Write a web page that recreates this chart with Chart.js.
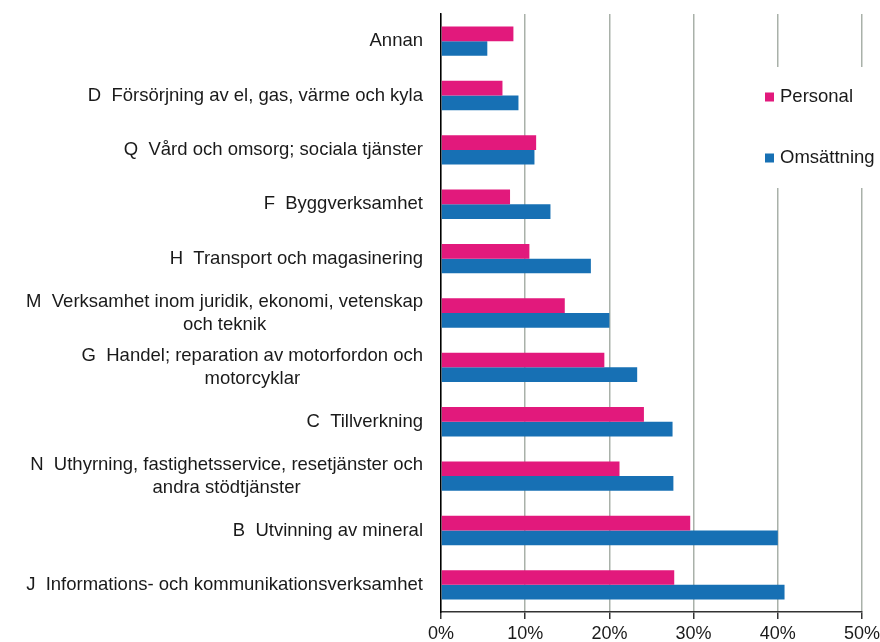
<!DOCTYPE html>
<html lang="sv">
<head>
<meta charset="UTF-8">
<title>Personal och omsättning per bransch</title>
<script src="https://cdn.jsdelivr.net/npm/chart.js"></script>
<style>
    body { margin: 0; background: #fff; }
    #wrap { width: 880px; height: 642px; }
</style>
</head>
<body>
<div id="wrap"><canvas id="barChart" width="880" height="642"></canvas></div>
<script>
const categories = [
    ['Annan'],
    ['D  Försörjning av el, gas, värme och kyla'],
    ['Q  Vård och omsorg; sociala tjänster'],
    ['F  Byggverksamhet'],
    ['H  Transport och magasinering'],
    ['M  Verksamhet inom juridik, ekonomi, vetenskap', 'och teknik'],
    ['G  Handel; reparation av motorfordon och', 'motorcyklar'],
    ['C  Tillverkning'],
    ['N  Uthyrning, fastighetsservice, resetjänster och', 'andra stödtjänster'],
    ['B  Utvinning av mineral'],
    ['J  Informations- och kommunikationsverksamhet']
];
const personal   = [8.6, 7.3, 11.3, 8.2, 10.5, 14.7, 19.4, 24.1, 21.2, 29.6, 27.7];
const omsattning = [5.5, 9.2, 11.1, 13.0, 17.8, 20.0, 23.3, 27.5, 27.6, 40.0, 40.8];
const seriesNames = ['Personal', 'Omsättning'];
const xTicks = [0, 10, 20, 30, 40, 50];

const FONT = '"Liberation Sans", Arial, sans-serif';

// category labels: first line right aligned, second line centred under the first
const catLabels = {
    id: 'catLabels',
    afterDraw(chart) {
        const ctx = chart.ctx;
        const yScale = chart.scales.y;
        const right = yScale.right - 18;
        const lineH = 23;
        ctx.save();
        ctx.font = '18.5px ' + FONT;
        ctx.fillStyle = '#1a1a1a';
        ctx.textBaseline = 'middle';
        categories.forEach((lines, i) => {
            const y = yScale.getPixelForValue(i);
            const w0 = ctx.measureText(lines[0]).width;
            const cx = right - w0 / 2;
            const top = y - (lines.length - 1) * lineH / 2;
            lines.forEach((line, j) => {
                ctx.textAlign = j === 0 ? 'right' : 'center';
                ctx.fillText(line, j === 0 ? right : cx, top + j * lineH);
            });
        });
        ctx.restore();
    }
};

// legend box sitting on top of the grid, right side
const boxLegend = {
    id: 'boxLegend',
    afterDatasetsDraw(chart) {
        const ctx = chart.ctx;
        ctx.save();
        ctx.fillStyle = '#fff';
        ctx.fillRect(752, 67, 128, 121);
        ctx.font = '18.5px ' + FONT;
        ctx.textBaseline = 'middle';
        ctx.textAlign = 'left';
        const rows = [97, 158];
        chart.data.datasets.forEach((ds, i) => {
            ctx.fillStyle = ds.backgroundColor;
            ctx.fillRect(765, rows[i] - 4.5, 9, 9);
            ctx.fillStyle = '#1a1a1a';
            ctx.fillText(ds.label, 780, rows[i]);
        });
        ctx.restore();
    }
};

const ctx = document.getElementById('barChart').getContext('2d');
new Chart(ctx, {
    type: 'bar',
    data: {
        labels: categories,
        datasets: [
            {
                label: seriesNames[0],
                data: personal,
                backgroundColor: '#e2197c',
                borderWidth: 0
            },
            {
                label: seriesNames[1],
                data: omsattning,
                backgroundColor: '#1770b4',
                borderWidth: 0
            }
        ]
    },
    options: {
        indexAxis: 'y',
        responsive: false,
        animation: false,
        categoryPercentage: 0.54,
        barPercentage: 1.0,
        layout: { padding: { top: 14, right: 18, bottom: 0, left: 0 } },
        scales: {
            x: {
                min: xTicks[0],
                max: xTicks[xTicks.length - 1],
                afterBuildTicks(scale) {
                    scale.ticks = xTicks.map(v => ({ value: v }));
                },
                afterFit(scale) {
                    scale.height = 30;
                    scale.paddingLeft = 0;
                    scale.paddingRight = 0;
                },
                ticks: {
                    callback: v => v + '%',
                    color: '#1a1a1a',
                    padding: 4,
                    font: { family: FONT, size: 18 }
                },
                grid: {
                    color: '#a9b1a9',
                    lineWidth: 1.5,
                    drawTicks: true,
                    tickLength: 7,
                    tickColor: '#333'
                },
                border: { display: true, color: '#333', width: 1.5 }
            },
            y: {
                afterFit(scale) { scale.width = 441; },
                ticks: { display: false },
                grid: { display: false },
                border: { display: true, color: '#000', width: 1.5 }
            }
        },
        plugins: {
            legend: { display: false },
            tooltip: { enabled: false }
        }
    },
    plugins: [boxLegend, catLabels]
});
</script>
</body>
</html>
